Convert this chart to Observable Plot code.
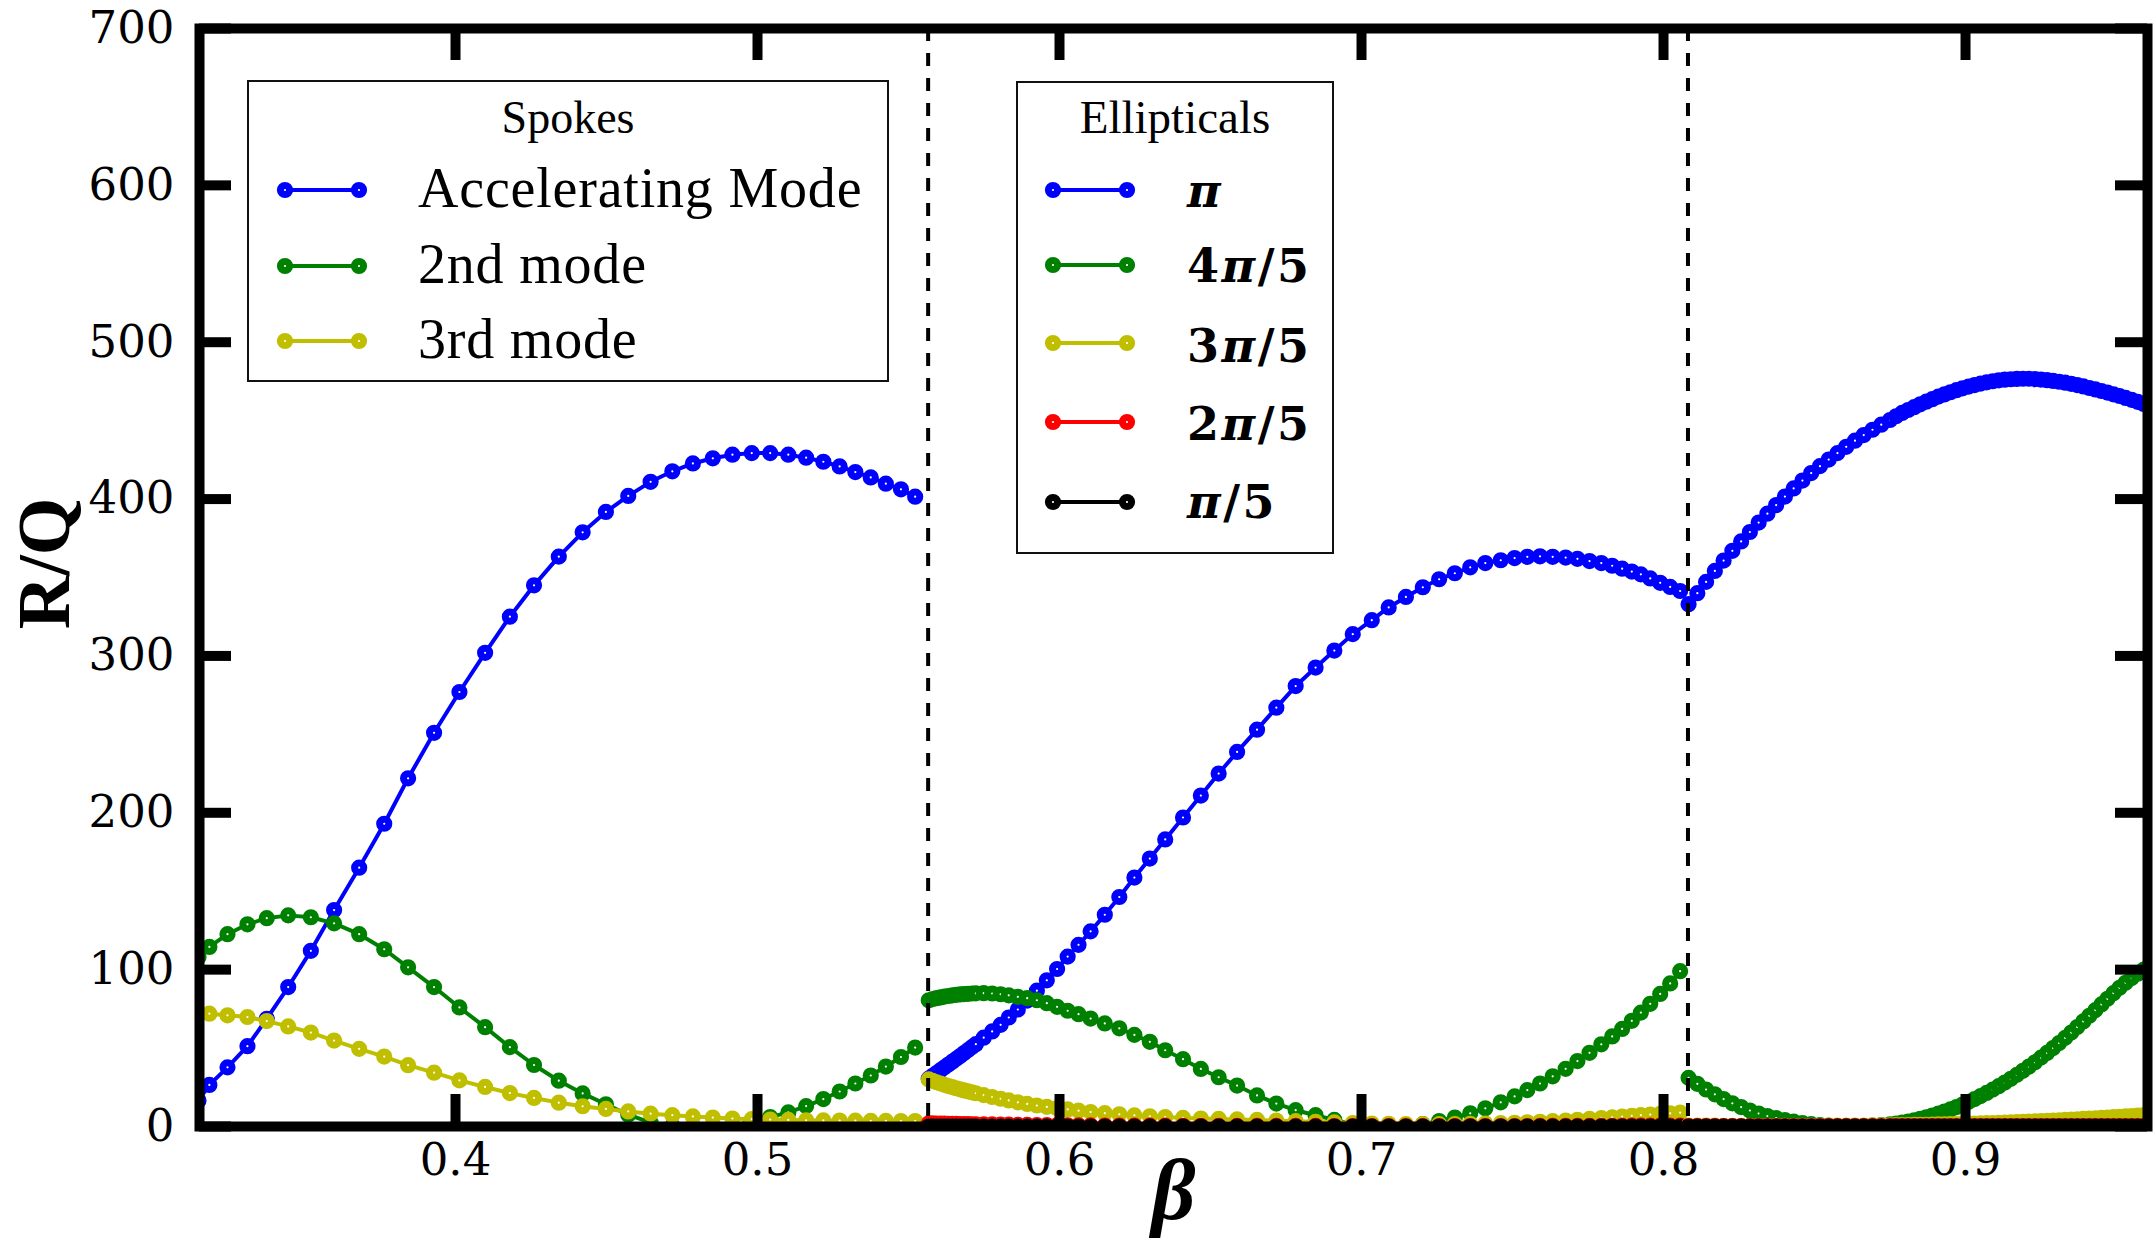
<!DOCTYPE html>
<html>
<head>
<meta charset="utf-8">
<script src="https://cdn.jsdelivr.net/npm/d3@7"></script>
<script src="https://cdn.jsdelivr.net/npm/@observablehq/plot@0.6"></script>
<style>
  html, body { margin: 0; padding: 0; background: #fff; }
  #chart svg { display: block; }
</style>
</head>
<body>
<div id="chart"></div>
<script>
// ---- Spoke cavity sweep (beta, R/Q) ----
const betaSpokes = [
  0.3149, 0.3185, 0.3245, 0.3311, 0.3375, 0.3446, 0.3521, 0.3598, 0.3681, 0.3764,
  0.3843, 0.3929, 0.4013, 0.4098, 0.4180, 0.4260, 0.4342, 0.4421, 0.4498, 0.4572,
  0.4646, 0.4718, 0.4786, 0.4852, 0.4917, 0.4981, 0.5042, 0.5102, 0.5161, 0.5218,
  0.5272, 0.5324, 0.5375, 0.5425, 0.5475, 0.5522
];
const accelMode = [
  16.6, 26.5, 37.7, 51.2, 68.7, 88.9, 112, 138, 165, 193,
  222, 251, 277, 302, 325, 345, 363.3, 378.8, 391.8, 402,
  411, 417.7, 422.7, 426, 428.3, 429.3, 429.3, 428.3, 426.4, 423.8,
  420.8, 417.2, 413.8, 409.8, 406.2, 401.5
];
const secondMode = [
  108, 114.5, 122.6, 128.9, 132.8, 134.6, 133.4, 129.5, 122.6, 113,
  101.5, 88.9, 75.9, 63.3, 50.6, 39.2, 29.2, 21.1, 14.2, 7.5,
  2.4, 0.5, 0, 0, 0.5, 3, 6, 9, 13, 17.5,
  22.3, 27.4, 32.5, 38.2, 44.3, 50.3
];
const thirdMode = [
  72.2, 71.9, 70.9, 69.8, 67.2, 63.8, 59.9, 54.8, 49.5, 44.6,
  39.1, 34.3, 29.4, 25.2, 21.3, 18.2, 15.2, 12.9, 11.2, 9.6,
  8.2, 7.2, 6.4, 5.7, 5.1, 4.7, 4.4, 4.2, 4.0, 3.9,
  3.8, 3.7, 3.6, 3.6, 3.5, 3.5
];

// ---- Elliptical cells, first beta range ----
const betaEllLow = [
  0.5567, 0.5580, 0.5593, 0.5606, 0.5619, 0.5632, 0.5645, 0.5658, 0.5671, 0.5684,
  0.5697, 0.5710, 0.5723, 0.5749, 0.5777, 0.5805, 0.5832, 0.5862, 0.5893, 0.5925,
  0.5958, 0.5992, 0.6027, 0.6063, 0.6103, 0.6150, 0.6198, 0.6248, 0.6299, 0.6350,
  0.6409, 0.6468, 0.6527, 0.6588, 0.6654, 0.6718, 0.6782, 0.6848, 0.6910, 0.6971,
  0.7034, 0.7090, 0.7147, 0.7203, 0.7257, 0.7309, 0.7360, 0.7410, 0.7461, 0.7507,
  0.7549, 0.7591, 0.7633, 0.7676, 0.7715, 0.7755, 0.7794, 0.7830, 0.7863, 0.7895,
  0.7925, 0.7956, 0.7989, 0.8022, 0.8055
];
const piLow = [
  30.5, 32.3, 34.1, 35.9, 37.7, 39.5, 41.3, 43.1, 44.9, 46.8,
  48.7, 50.6, 52.5, 56.6, 60.6, 64.8, 69.5, 74.6, 80.3, 86.6,
  93.2, 100.4, 108.3, 115.8, 124.4, 135, 146.3, 158.7, 170.8, 183,
  197, 211, 225, 238.8, 253, 267, 280.8, 292.6, 303.4, 313.9,
  322.8, 330.9, 337.6, 343.8, 348.9, 352.7, 356.5, 359.2, 361, 362.4,
  363.2, 363.5, 363.2, 362.7, 361.9, 360.5, 359.2, 357.5, 355.6, 353.8,
  352, 349.4, 346.6, 344, 341.4
];
const fourPiLow = [
  80.5, 81.2, 81.8, 82.3, 82.8, 83.2, 83.6, 83.9, 84.2, 84.4,
  84.6, 84.8, 84.9, 85, 84.8, 84.3, 83.6, 82.7, 81.8, 80.5,
  78.6, 76.3, 73.8, 71.6, 68.8, 65.7, 62.6, 58.4, 54, 48.6,
  42.9, 36.7, 31.4, 26.1, 19.8, 14.6, 10.4, 7.2, 4.2, 1.5,
  0.3, 0, 0.3, 1.5, 3.5, 5.7, 8.4, 11.6, 15.4, 19.2,
  23.2, 27.4, 32, 36.8, 41.7, 47, 52.4, 57.4, 62.2, 67.4,
  72.6, 78.2, 84.5, 91.2, 99
];
const threePiLow = [
  30, 29.1, 28.2, 27.4, 26.6, 25.8, 25.1, 24.4, 23.7, 23.0,
  22.4, 21.8, 21.2, 20.0, 18.8, 17.7, 16.6, 15.4, 14.4, 13.4,
  12.5, 11.7, 10.9, 10.1, 9.2, 8.5, 7.8, 7.1, 6.5, 6.0,
  5.5, 5.1, 4.8, 4.5, 4.2, 3.8, 3.4, 3.0, 2.6, 2.2,
  1.9, 1.7, 1.6, 1.5, 1.5, 1.6, 1.7, 1.9, 2.1, 2.4,
  2.7, 3.0, 3.4, 3.8, 4.3, 4.8, 5.3, 5.8, 6.3, 6.8,
  7.2, 7.6, 8.0, 8.4, 8.8
];
const twoPiLow = [
  2.0, 1.95, 1.9, 1.85, 1.8, 1.75, 1.7, 1.65, 1.6, 1.55,
  1.5, 1.45, 1.4, 1.35, 1.3, 1.25, 1.2, 1.1, 1.0, 0.95,
  0.9, 0.85, 0.8, 0.75, 0.7, 0.65, 0.6, 0.55, 0.5, 0.5,
  0.45, 0.45, 0.4, 0.4, 0.4, 0.35, 0.35, 0.35, 0.3, 0.3,
  0.3, 0.3, 0.3, 0.3, 0.3, 0.3, 0.3, 0.3, 0.3, 0.3,
  0.3, 0.35, 0.35, 0.35, 0.4, 0.4, 0.4, 0.45, 0.45, 0.5,
  0.5, 0.5, 0.55, 0.55, 0.6
];
const onePiLow = [
  0, 0, 0, 0, 0, 0, 0, 0, 0, 0,
  0, 0, 0, 0, 0, 0, 0, 0, 0, 0,
  0, 0, 0, 0, 0, 0, 0, 0, 0, 0,
  0, 0, 0, 0, 0, 0, 0, 0, 0, 0,
  0, 0, 0, 0, 0, 0, 0, 0, 0, 0,
  0, 0, 0, 0, 0, 0, 0, 0, 0, 0,
  0, 0, 0, 0, 0
];

// ---- Elliptical cells, second beta range ----
const betaEllHigh = [
  0.8083, 0.8112, 0.8141, 0.8170, 0.8199, 0.8228, 0.8257, 0.8286, 0.8315, 0.8344,
  0.8373, 0.8402, 0.8431, 0.8460, 0.8489, 0.8518, 0.8547, 0.8576, 0.8605, 0.8634,
  0.8663, 0.8692, 0.8721, 0.8750, 0.877, 0.879, 0.881, 0.883, 0.885, 0.887,
  0.889, 0.891, 0.893, 0.895, 0.897, 0.899, 0.901, 0.903, 0.905, 0.907,
  0.909, 0.911, 0.913, 0.915, 0.917, 0.919, 0.921, 0.923, 0.925, 0.927,
  0.929, 0.931, 0.933, 0.935, 0.937, 0.939, 0.941, 0.943, 0.945, 0.947,
  0.949, 0.951, 0.953, 0.955, 0.957, 0.959, 0.961
];
const piHigh = [
  333, 340, 347.2, 354.2, 360.8, 367, 373, 379, 385, 390.7,
  396.2, 401.6, 406.8, 411.8, 416.6, 421, 425.2, 429.3, 433.3, 437.2,
  440.8, 444.2, 447.4, 450.4, 452.8, 454.9, 456.8, 458.6, 460.4, 462.1,
  463.7, 465.3, 466.7, 468.1, 469.4, 470.6, 471.7, 472.7, 473.6, 474.4,
  475.1, 475.7, 476.1, 476.4, 476.6, 476.7, 476.7, 476.5, 476.2, 475.8,
  475.3, 474.8, 474.2, 473.5, 472.7, 471.8, 470.8, 469.9, 468.9, 467.9,
  466.8, 465.7, 464.5, 463.3, 462.0, 460.6, 459.2
];
const fourPiHigh = [
  31, 27.2, 23.6, 20.5, 17.5, 14.8, 12.4, 10.2, 8.3, 6.7,
  5.3, 4.1, 3.1, 2.2, 1.5, 0.9, 0.5, 0.2, 0.1, 0.1,
  0.2, 0.5, 0.9, 1.4, 1.9, 2.5, 3.2, 4.0, 4.9, 5.9,
  7.0, 8.2, 9.5, 10.9, 12.4, 14.0, 15.7, 17.5, 19.4, 21.4,
  23.5, 25.7, 28.0, 30.4, 32.9, 35.5, 38.2, 41.0, 43.9, 46.9,
  50.0, 53.2, 56.5, 59.9, 63.4, 67.0, 70.6, 74.2, 77.8, 81.4,
  85.0, 88.4, 91.6, 94.6, 97.4, 100.0, 102.5
];
const threePiHigh = [
  0.6, 0.55, 0.5, 0.5, 0.45, 0.45, 0.4, 0.4, 0.4, 0.4,
  0.4, 0.4, 0.4, 0.4, 0.45, 0.45, 0.5, 0.5, 0.55, 0.6,
  0.65, 0.7, 0.75, 0.8, 0.85, 0.9, 0.95, 1.0, 1.05, 1.1,
  1.2, 1.3, 1.4, 1.5, 1.6, 1.7, 1.8, 1.9, 2.0, 2.1,
  2.2, 2.35, 2.5, 2.65, 2.8, 2.95, 3.1, 3.25, 3.4, 3.6,
  3.8, 4.0, 4.2, 4.4, 4.6, 4.8, 5.0, 5.2, 5.45, 5.7,
  5.95, 6.2, 6.45, 6.7, 7.0, 7.3, 7.6
];
const twoPiHigh = [
  0.3, 0.3, 0.3, 0.3, 0.3, 0.3, 0.3, 0.3, 0.3, 0.3,
  0.3, 0.3, 0.3, 0.3, 0.3, 0.3, 0.3, 0.3, 0.3, 0.3,
  0.3, 0.3, 0.3, 0.3, 0.3, 0.3, 0.3, 0.3, 0.3, 0.3,
  0.3, 0.3, 0.3, 0.3, 0.3, 0.3, 0.3, 0.3, 0.3, 0.3,
  0.3, 0.3, 0.3, 0.3, 0.3, 0.3, 0.3, 0.3, 0.3, 0.3,
  0.3, 0.3, 0.3, 0.3, 0.3, 0.3, 0.3, 0.3, 0.3, 0.3,
  0.3, 0.3, 0.3, 0.3, 0.3, 0.3, 0.3
];
const onePiHigh = [
  0, 0, 0, 0, 0, 0, 0, 0, 0, 0,
  0, 0, 0, 0, 0, 0, 0, 0, 0, 0,
  0, 0, 0, 0, 0, 0, 0, 0, 0, 0,
  0, 0, 0, 0, 0, 0, 0, 0, 0, 0,
  0, 0, 0, 0, 0, 0, 0, 0, 0, 0,
  0, 0, 0, 0, 0, 0, 0, 0, 0, 0,
  0, 0, 0, 0, 0, 0, 0
];

// ---- Axes, boundaries and legend labels ----
const xTicks = [0.4, 0.5, 0.6, 0.7, 0.8, 0.9];
const yTicks = [0, 100, 200, 300, 400, 500, 600, 700];
const rangeBoundaries = [0.5565, 0.8081];
const spokeNames = ["Accelerating Mode", "2nd mode", "3rd mode"];
const ellipticalNames = ["π", "4π/5", "3π/5", "2π/5", "π/5"];

const BLUE = "#0000ff", GREEN = "#008000", YELLOW = "#bfbf00", RED = "#ff0000", BLACK = "#000000";
const spokeColors = [BLUE, GREEN, YELLOW];
const ellipticalColors = [BLUE, GREEN, YELLOW, RED, BLACK];

// one entry per drawn curve, in drawing order
const curves = [
  [betaSpokes, accelMode, BLUE],
  [betaSpokes, secondMode, GREEN],
  [betaSpokes, thirdMode, YELLOW],
  [betaEllLow, piLow, BLUE],
  [betaEllLow, fourPiLow, GREEN],
  [betaEllLow, threePiLow, YELLOW],
  [betaEllLow, twoPiLow, RED],
  [betaEllLow, onePiLow, BLACK],
  [betaEllHigh, piHigh, BLUE],
  [betaEllHigh, fourPiHigh, GREEN],
  [betaEllHigh, threePiHigh, YELLOW],
  [betaEllHigh, twoPiHigh, RED],
  [betaEllHigh, onePiHigh, BLACK]
].map(([xs, ys, color]) => ({color, rows: xs.map((b, i) => ({beta: b, rq: ys[i]}))}));

const SERIF = "'Liberation Serif', 'Times New Roman', serif";
const SLAB = "'DejaVu Serif', serif";
const W = 2153, H = 1243;
const mt = 28, mb = 117, ml = 199, mr = 6;
const innerW = W - ml - mr, innerH = H - mt - mb;
const tickLen = 32;
const LINE_W = 4, DOT_R = 4.6, DOT_W = 7;

const marks = [];
for (const c of curves) {
  marks.push(Plot.line(c.rows, {x: "beta", y: "rq", stroke: c.color, strokeWidth: LINE_W, clip: true}));
  marks.push(Plot.dot(c.rows, {x: "beta", y: "rq", r: DOT_R, stroke: c.color, strokeWidth: DOT_W, fill: "white", clip: true}));
}
marks.push(
  Plot.ruleX(rangeBoundaries, {x: d => d, stroke: "black", strokeWidth: 4, strokeDasharray: "13,12"}),
  // inward ticks on all four sides
  Plot.tickX(xTicks, {x: d => d, stroke: "black", strokeWidth: 10, insetTop: innerH - tickLen}),
  Plot.tickX(xTicks, {x: d => d, stroke: "black", strokeWidth: 10, insetBottom: innerH - tickLen}),
  Plot.tickY(yTicks, {y: d => d, stroke: "black", strokeWidth: 10, insetRight: innerW - tickLen}),
  Plot.tickY(yTicks, {y: d => d, stroke: "black", strokeWidth: 10, insetLeft: innerW - tickLen}),
  Plot.frame({stroke: "black", strokeWidth: 10}),
  Plot.axisX({ticks: xTicks, tickSize: 0, tickPadding: 17, fontSize: 45, fontFamily: SLAB, tickFormat: d => String(d), label: null}),
  Plot.axisY({ticks: yTicks, tickSize: 0, tickPadding: 25, fontSize: 45, fontFamily: SLAB, tickFormat: d => String(d), label: null}),
  Plot.text(["R/Q"], {text: d => d, frameAnchor: "left", dx: -154, dy: -14, rotate: -90,
    textAnchor: "middle", lineAnchor: "middle",
    fontSize: 74, fontWeight: "bold", fontFamily: SERIF, letterSpacing: 3}),
  Plot.text(["β"], {text: d => d, frameAnchor: "bottom", dy: 92, lineAnchor: "bottom", textAnchor: "middle",
    fontSize: 86, fontWeight: "bold", fontStyle: "italic", fontFamily: SERIF})
);

const chart = Plot.plot({
  width: W, height: H,
  marginTop: mt, marginBottom: mb, marginLeft: ml, marginRight: mr,
  x: {domain: [0.31523, 0.96026]},
  y: {domain: [0, 700]},
  style: {background: "white", fontFamily: SERIF},
  marks
});
document.getElementById("chart").appendChild(chart);

// ---- Legends ----
const svg = d3.select(chart);
const lg = svg.append("g").attr("class", "legends").attr("text-anchor", "start");

function legendFrame(x, y, w, h) {
  lg.append("rect").attr("x", x).attr("y", y).attr("width", w).attr("height", h)
    .attr("fill", "white").attr("stroke", "#111").attr("stroke-width", 2);
}
function legendSample(x1, x2, y, color) {
  lg.append("line").attr("x1", x1).attr("x2", x2).attr("y1", y).attr("y2", y)
    .attr("stroke", color).attr("stroke-width", LINE_W);
  for (const cx of [x1, x2]) {
    lg.append("circle").attr("cx", cx).attr("cy", y).attr("r", DOT_R)
      .attr("fill", "white").attr("stroke", color).attr("stroke-width", DOT_W);
  }
}
function legendTitle(x, y, s, size) {
  lg.append("text").attr("x", x).attr("y", y).attr("text-anchor", "middle")
    .attr("font-family", SERIF).attr("font-size", size).text(s);
}

// Spokes
legendFrame(248, 81, 640, 300);
legendTitle(568, 133, "Spokes", 46);
const spokeRows = [207, 283, 358];
spokeNames.forEach((name, i) => {
  legendSample(285, 359, spokeRows[i] - 17, spokeColors[i]);
  lg.append("text").attr("x", 418).attr("y", spokeRows[i]).attr("text-anchor", "start")
    .attr("font-family", SERIF).attr("font-size", 56).attr("letter-spacing", 0.8).text(name);
});

// Ellipticals
legendFrame(1017, 82, 316, 471);
legendTitle(1175, 133, "Ellipticals", 47);
const ellRows = [207, 282, 362, 440, 518];
const ellLines = [190, 265, 343, 422, 502];
ellipticalNames.forEach((name, i) => {
  legendSample(1053, 1127, ellLines[i], ellipticalColors[i]);
  const t = lg.append("text").attr("x", 1187).attr("y", ellRows[i]).attr("text-anchor", "start")
    .attr("font-family", SLAB).attr("font-size", 46).attr("font-weight", "bold").attr("letter-spacing", 2.5);
  name.split(/(π)/).filter(s => s.length).forEach(part => {
    const ts = t.append("tspan").text(part);
    if (part === "π") ts.attr("font-style", "italic");
  });
});
</script>
</body>
</html>
